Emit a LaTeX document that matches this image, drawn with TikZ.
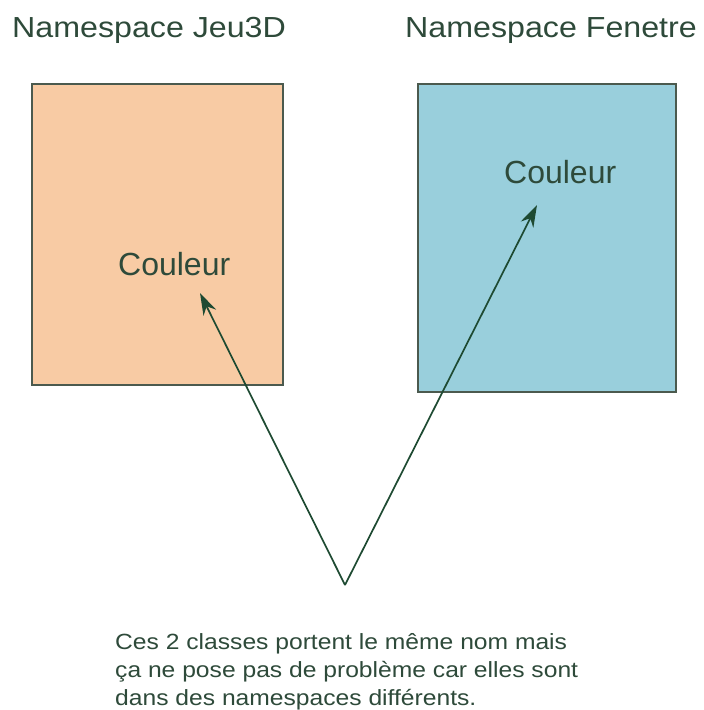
\documentclass[tikz,border=0pt]{standalone}
\usepackage{fontspec}
\setmainfont{Liberation Sans}
\newfontfamily\titlefont[FakeStretch=1.11]{Liberation Sans}
\newfontfamily\notefont[FakeStretch=1.12]{Liberation Sans}
\usetikzlibrary{arrows.meta}
\definecolor{peach}{HTML}{F8CBA4}
\definecolor{cyanbox}{HTML}{99CFDC}
\definecolor{boxedge}{HTML}{4B5A4E}
\definecolor{txt}{HTML}{2E4A3A}
\definecolor{arr}{HTML}{1E4A32}
\begin{document}
\begin{tikzpicture}[x=1pt,y=-1pt,
  nsbox/.style={draw=boxedge,line width=1.5pt},
  title/.style={anchor=base west,inner sep=0pt,text=txt,font=\titlefont\fontsize{29}{34}\selectfont},
  cls/.style={anchor=base west,inner sep=0pt,text=txt,font=\fontsize{32}{38}\selectfont},
  note/.style={anchor=north west,inner sep=0pt,text=txt,align=left,font=\notefont\fontsize{22}{28}\selectfont},
  link/.style={draw=arr,line width=1.7pt,-{Stealth[length=22pt,width=14pt]}}]
\useasboundingbox (0,0) rectangle (704,710);
\fill[white] (0,0) rectangle (704,710);
\draw[nsbox,fill=peach] (32,84) rectangle (283,385);
\draw[nsbox,fill=cyanbox] (418,84) rectangle (676,392);
\node[title] (t1) at (12,37) {Namespace Jeu3D};
\node[title] (t2) at (405,37) {Namespace Fenetre};
\node[cls] (c1) at (118,275) {Couleur};
\node[cls] (c2) at (504,183) {Couleur};
\coordinate (apex) at (345,585);
\coordinate (tip1) at (200,293);
\coordinate (tip2) at (537,205);
\draw[link] (apex) -- (tip1);
\draw[link] (apex) -- (tip2);
\node[note] (n) at (115,633) {Ces 2 classes portent le même nom mais\\ça ne pose pas de problème car elles sont\\dans des namespaces différents.};
\end{tikzpicture}
\end{document}
